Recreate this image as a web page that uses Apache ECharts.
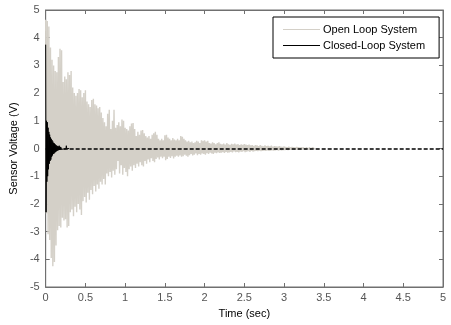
<!DOCTYPE html>
<html>
<head>
<meta charset="utf-8">
<script src="https://cdn.jsdelivr.net/npm/echarts@6/dist/echarts.min.js"></script>
<style>html,body{margin:0;padding:0;background:#fff}#c{width:451px;height:325px}</style>
</head>
<body>
<div id="c"></div>
<script>
// Open loop: positive peaks every 0.02 s starting at t=0, negative peaks offset by 0.01 s
const openStep = 0.02;
const openUpper = [
 4.65,4.6,4.4,3.65,3.2,3.0,2.8,2.75,3.3,3.6,
 3.55,2.4,2.6,2.5,2.75,2.65,2.8,2.2,2.0,1.9,
 2.0,2.15,2.1,1.85,2.0,2.1,1.7,1.6,1.5,1.75,
 1.8,1.6,1.55,1.45,1.5,1.3,1.1,0.95,0.8,1.25,
 1.4,0.7,1.0,1.4,0.75,0.85,0.95,0.8,1.05,1.0,
 0.75,0.7,0.65,0.8,0.9,0.92,0.7,0.45,0.6,0.5,
 0.65,0.67,0.55,0.45,0.4,0.45,0.35,0.5,0.55,0.6,
 0.5,0.35,0.3,0.35,0.3,0.48,0.5,0.4,0.35,0.3,
 0.38,0.32,0.3,0.35,0.3,0.45,0.42,0.35,0.3,0.25,
 0.28,0.22,0.25,0.2,0.22,0.28,0.25,0.2,0.3,0.28,
 0.3,0.25,0.28,0.2,0.18,0.22,0.2,0.15,0.2,0.22,
 0.17,0.15,0.18,0.14,0.2,0.15,0.13,0.17,0.15,0.18,
 0.14,0.16,0.12,0.15,0.13,0.16,0.14,0.12,0.14,0.11,
 0.12,0.1,0.12,0.11,0.09,0.12,0.1,0.08,0.11,0.09,
 0.1,0.08,0.1,0.07,0.09,0.08,0.07,0.09,0.07,0.06,
 0.08,0.06,0.05,0.07,0.05,0.06,0.05,0.04,0.06,0.05,
 0.04,0.05,0.04,0.05,0.04,0.03,0.05,0.04,0.03,0.04
];
const openLower = [
 -2.35,-3.1,-3.3,-3.95,-4.25,-4.1,-3.5,-2.95,-2.8,-2.85,
 -2.5,-2.6,-2.55,-2.85,-2.8,-2.3,-2.2,-2.45,-2.1,-2.3,
 -2.0,-2.2,-2.4,-1.9,-1.75,-1.95,-1.6,-1.85,-1.5,-1.65,
 -1.35,-1.55,-1.3,-1.45,-1.2,-1.3,-1.1,-1.3,-0.9,-1.0,
 -0.85,-1.05,-0.8,-0.95,-0.75,-0.45,-0.9,-0.6,-0.95,-0.7,
 -0.85,-1.0,-0.75,-0.65,-0.8,-0.6,-0.7,-0.55,-0.65,-0.5,
 -0.6,-0.65,-0.45,-0.55,-0.4,-0.5,-0.35,-0.45,-0.5,-0.38,
 -0.32,-0.4,-0.3,-0.35,-0.3,-0.42,-0.38,-0.3,-0.34,-0.28,
 -0.36,-0.3,-0.26,-0.3,-0.25,-0.3,-0.28,-0.22,-0.26,-0.3,
 -0.24,-0.2,-0.25,-0.22,-0.18,-0.24,-0.2,-0.22,-0.18,-0.2,
 -0.22,-0.17,-0.2,-0.15,-0.18,-0.2,-0.15,-0.17,-0.14,-0.16,
 -0.15,-0.13,-0.16,-0.12,-0.15,-0.14,-0.12,-0.14,-0.11,-0.13,
 -0.12,-0.14,-0.11,-0.12,-0.1,-0.13,-0.11,-0.1,-0.12,-0.09,
 -0.11,-0.1,-0.09,-0.1,-0.08,-0.1,-0.09,-0.08,-0.09,-0.07,
 -0.09,-0.08,-0.07,-0.08,-0.07,-0.06,-0.08,-0.06,-0.07,-0.06,
 -0.06,-0.05,-0.06,-0.05,-0.05,-0.04,-0.05,-0.04,-0.05,-0.04,
 -0.04,-0.04,-0.03,-0.04,-0.03,-0.04,-0.03,-0.03,-0.03,-0.02
];
// Closed loop: samples every 0.005 s
const closedStep = 0.005;
const closedVals = [
 3.75,-2.3,1.0,-1.2,0.95,-1.0,0.75,-0.75,0.6,-0.55,
 0.5,-0.45,0.4,-0.4,0.35,-0.3,0.3,-0.25,0.25,-0.2,
 0.2,-0.18,0.18,-0.15,0.15,-0.12,0.12,-0.1,0.1,-0.08,
 0.08,-0.07,0.07,-0.05,0.1,-0.05,0.06,-0.04,0.05,-0.03,
 0.04,-0.03,0.04,-0.02,0.03,-0.02,0.03,-0.02,0.02,-0.01,
 0.02,-0.01,0.1,-0.01,0.01,0,0.01,0,0,0
];
const xTicks = {min:0, max:5, interval:0.5};
const yTicks = {min:-5, max:5, interval:1};
const seriesNames = ['Open Loop System','Closed-Loop System'];

const openData = [];
openUpper.forEach((v,i)=>{
  openData.push([i*openStep, v]);
  if (i < openLower.length) openData.push([i*openStep + openStep/2, openLower[i]]);
});
const closedData = closedVals.map((v,i)=>[i*closedStep, v]);

const font = '"Liberation Sans", Arial, sans-serif';
const axisColor = '#707070';
const labelColor = '#555555';

const chart = echarts.init(document.getElementById('c'), null, {renderer:'canvas'});
chart.setOption({
  animation:false,
  backgroundColor:'#ffffff',
  textStyle:{fontFamily:font},
  grid:{left:45, right:8, top:10, bottom:38, show:true, borderColor:axisColor, borderWidth:1, backgroundColor:'transparent'},
  legend:{
    data:seriesNames, orient:'vertical', left:273, top:17,
    width:150, icon:'rect',
    backgroundColor:'#ffffff', borderColor:'#000000', borderWidth:1,
    padding:[6,14,6,10], itemGap:3, itemWidth:37, itemHeight:1,
    textStyle:{fontFamily:font, fontSize:11, color:'#000', lineHeight:13, padding:[0,0,0,-2]}
  },
  xAxis:[{
    type:'value', min:xTicks.min, max:xTicks.max, interval:xTicks.interval,
    name:'Time (sec)', nameLocation:'middle', nameGap:21,
    nameTextStyle:{fontFamily:font, fontSize:11, color:'#000'},
    axisLine:{show:true, onZero:false, lineStyle:{color:axisColor}},
    axisTick:{show:true, inside:true, length:4, lineStyle:{color:axisColor}},
    axisLabel:{color:labelColor, fontSize:11, fontFamily:font, margin:5},
    splitLine:{show:false}
  },{
    type:'value', position:'top', min:xTicks.min, max:xTicks.max, interval:xTicks.interval,
    axisLine:{show:true, onZero:false, lineStyle:{color:axisColor}},
    axisTick:{show:true, inside:true, length:4, lineStyle:{color:axisColor}},
    axisLabel:{show:false}, splitLine:{show:false}
  }],
  yAxis:[{
    type:'value', min:yTicks.min, max:yTicks.max, interval:yTicks.interval,
    name:'Sensor Voltage (V)', nameLocation:'middle', nameGap:23,
    nameTextStyle:{fontFamily:font, fontSize:11, color:'#000'},
    axisLine:{show:true, onZero:false, lineStyle:{color:axisColor}},
    axisTick:{show:true, inside:true, length:4, lineStyle:{color:axisColor}},
    axisLabel:{color:labelColor, fontSize:11, fontFamily:font, margin:6},
    splitLine:{show:false}
  },{
    type:'value', position:'right', min:yTicks.min, max:yTicks.max, interval:yTicks.interval,
    axisLine:{show:true, onZero:false, lineStyle:{color:axisColor}},
    axisTick:{show:true, inside:true, length:4, lineStyle:{color:axisColor}},
    axisLabel:{show:false}, splitLine:{show:false}
  }],
  series:[{
    name:seriesNames[0], type:'line', data:openData, symbol:'none', showSymbol:false,
    lineStyle:{color:'#d4d0c8', width:1.4}, itemStyle:{color:'#d4d0c8'}, z:2
  },{
    name:seriesNames[1], type:'line', data:closedData, symbol:'none', showSymbol:false,
    lineStyle:{color:'#000000', width:1}, itemStyle:{color:'#000000'}, z:3,
    markLine:{
      silent:true, symbol:'none', label:{show:false},
      lineStyle:{color:'#000000', type:[4,2], width:1.5},
      data:[{yAxis:0}]
    }
  }]
});
</script>
</body>
</html>
